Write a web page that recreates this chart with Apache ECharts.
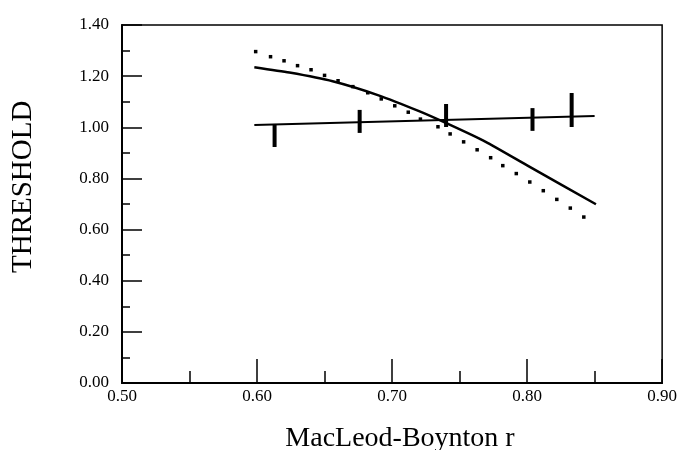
<!DOCTYPE html>
<html>
<head>
<meta charset="utf-8">
<script src="https://cdn.jsdelivr.net/npm/echarts@6.0.0/dist/echarts.min.js"></script>
<style>
html,body{margin:0;padding:0;background:#fff;}
#chart{width:680px;height:450px;}
</style>
</head>
<body>
<div id="chart"></div>
<script>
// Axis ticks
const xTicks = [0.50, 0.60, 0.70, 0.80, 0.90];
const yTicks = [0.00, 0.20, 0.40, 0.60, 0.80, 1.00, 1.20, 1.40];

// Horizontal (flat) fit line
const flatX = [0.598, 0.850];
const flatY = [1.009, 1.044];

// Error bars: x, low, high
const barX    = [0.613, 0.676, 0.740, 0.804, 0.833];
const barLow  = [0.923, 0.978, 1.001, 0.986, 1.001];
const barHigh = [1.013, 1.068, 1.091, 1.075, 1.134];

// Solid curve
const solidX = [0.598, 0.624, 0.656, 0.690, 0.720, 0.741, 0.769, 0.801, 0.851];
const solidY = [1.235, 1.214, 1.180, 1.125, 1.063, 1.014, 0.944, 0.848, 0.699];

// Dotted curve (individual dots)
const dotX = [0.599, 0.610, 0.620, 0.630, 0.640, 0.650, 0.660, 0.671, 0.682, 0.692, 0.702, 0.712, 0.721,
              0.734, 0.743, 0.753, 0.763, 0.773, 0.782, 0.792, 0.802, 0.812, 0.822, 0.832, 0.842];
const dotY = [1.296, 1.276, 1.260, 1.241, 1.225, 1.203, 1.182, 1.159, 1.135, 1.111, 1.084, 1.059, 1.032,
              1.002, 0.974, 0.943, 0.912, 0.881, 0.850, 0.819, 0.786, 0.752, 0.718, 0.684, 0.649];

const xTitle = 'MacLeod-Boynton r';
const yTitle = 'THRESHOLD';

const zip = (a, b) => a.map((v, i) => [v, b[i]]);
const serif = '"Liberation Serif", "DejaVu Serif", serif';

const chart = echarts.init(document.getElementById('chart'), null, {renderer: 'canvas'});
chart.setOption({
  animation: false,
  backgroundColor: '#fff',
  grid: {left: 122, right: 17, top: 25, bottom: 67, show: true, borderColor: '#000', borderWidth: 1.5, backgroundColor: 'transparent'},
  xAxis: {
    type: 'value', min: xTicks[0], max: xTicks[xTicks.length - 1], interval: 0.1,
    axisLine: {show: true, lineStyle: {color: '#000', width: 2}},
    axisTick: {show: true, inside: true, length: 24, lineStyle: {color: '#000', width: 1.5}},
    minorTick: {show: true, splitNumber: 2, length: 12, lineStyle: {color: '#000', width: 1.5}},
    splitLine: {show: false},
    axisLabel: {color: '#000', fontFamily: serif, fontSize: 17, margin: 5,
      formatter: v => v.toFixed(2)}
  },
  yAxis: {
    type: 'value', min: yTicks[0], max: yTicks[yTicks.length - 1], interval: 0.2,
    axisLine: {show: true, lineStyle: {color: '#000', width: 2}},
    axisTick: {show: true, inside: true, length: 20, lineStyle: {color: '#000', width: 1.5}},
    minorTick: {show: true, splitNumber: 2, length: 8, lineStyle: {color: '#000', width: 1.5}},
    splitLine: {show: false},
    axisLabel: {color: '#000', fontFamily: serif, fontSize: 17, margin: 13,
      formatter: v => v.toFixed(2)}
  },
  graphic: [
    {type: 'text', x: 400, y: 425, style: {text: xTitle, font: '28px ' + serif, fill: '#000', align: 'center', verticalAlign: 'top'}},
    {type: 'text', x: 9, y: 273, rotation: Math.PI / 2, style: {text: yTitle, font: '29px ' + serif, fill: '#000'}}
  ],
  series: [
    {
      type: 'line', data: zip(flatX, flatY), showSymbol: false, silent: true,
      lineStyle: {color: '#000', width: 2}
    },
    {
      type: 'line', data: zip(solidX, solidY), showSymbol: false, smooth: 0.2, silent: true,
      lineStyle: {color: '#000', width: 2.5}
    },
    {
      type: 'line', data: zip(dotX, dotY), symbol: 'rect', symbolSize: 3.5, showSymbol: true, silent: true,
      itemStyle: {color: '#000'}, lineStyle: {opacity: 0}
    },
    {
      type: 'custom', silent: true,
      data: barX.map((x, i) => [x, barLow[i], barHigh[i]]),
      renderItem: (params, api) => {
        const lo = api.coord([api.value(0), api.value(1)]);
        const hi = api.coord([api.value(0), api.value(2)]);
        return {type: 'rect', shape: {x: lo[0] - 2, y: hi[1], width: 4, height: lo[1] - hi[1]}, style: {fill: '#000'}};
      }
    }
  ]
});
</script>
</body>
</html>
